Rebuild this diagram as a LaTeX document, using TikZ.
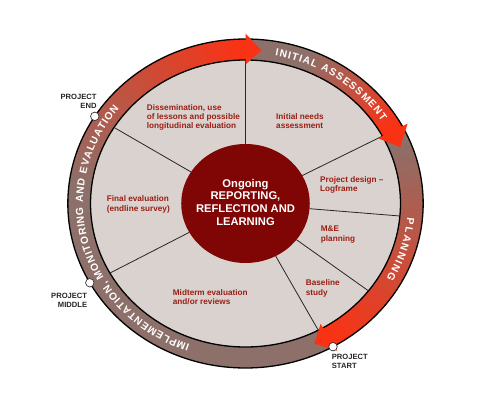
\documentclass[tikz,border=0pt]{standalone}
\usepackage{fontspec}
\setmainfont{Liberation Sans}
\usepackage{tikz}
\usetikzlibrary{decorations.text, calc}

\definecolor{ringbrown}{RGB}{140,112,105}
\definecolor{ringred}{RGB}{250,50,20}
\definecolor{diskgray}{RGB}{218,210,206}
\definecolor{coremaroon}{RGB}{128,5,5}
\definecolor{labelred}{RGB}{155,30,20}

\newcommand{\ringfont}{\fontsize{10.3}{10.3}\selectfont\bfseries}
\def\Rout{164.5}
\def\Rin{143.5}
\def\Rc{59.5}

\begin{document}
\begin{tikzpicture}[
    x=1pt, y=1pt,
    sector/.style={anchor=north west, inner sep=0pt, align=left, text=labelred, font=\fontsize{8.2}{9.3}\selectfont\bfseries},
    core/.style={inner sep=0pt, align=center, text=white, font=\fontsize{11.2}{12.7}\selectfont\bfseries},
    milestone/.style={inner sep=0pt, text=black!85, font=\fontsize{7.6}{9}\selectfont\bfseries},
    marker/.style={circle, draw=black!80, fill=white, line width=0.7pt, minimum size=8.5pt, inner sep=0pt},
    divider/.style={line width=0.8pt, black!85},
    ringtext/.style={decorate, decoration={text along path, text align={fit to path}, text color=white}}
]
    \path[use as bounding box, fill=white] (-245.5,-197.5) rectangle (246.5,203.5);

    \begin{scope}[xscale=1.08]
        \fill[diskgray] (0,0) circle[radius=\Rin];
        \fill[ringbrown, even odd rule] (0,0) circle[radius=\Rout] (0,0) circle[radius=\Rin];
        \foreach \from/\to/\steps in {172/90/41, 68/28/20, 22/-60/41} {
            \foreach \i in {1,...,\steps} {
                \pgfmathsetmacro\a{\from-(\i-1)*(\from-\to)/\steps}
                \pgfmathsetmacro\b{\from-\i*(\from-\to)/\steps-0.4}
                \pgfmathsetmacro\p{100*\i/\steps}
                \fill[ringred!\p!ringbrown] (\a:\Rout) arc[start angle=\a, end angle=\b, radius=\Rout]
                    -- (\b:\Rin) arc[start angle=\b, end angle=\a, radius=\Rin] -- cycle;
            }
        }
        \draw[line width=1.3pt] (0,0) circle[radius=\Rout];
        \draw[line width=1.3pt] (0,0) circle[radius=\Rin];
        \foreach \ang in {90, 28, -5, -37.5, -62, 209, 148}
            \draw[divider] (\ang:\Rc) -- (\ang:\Rin);
        \foreach \base/\tip in {90/84.5, 28/21.5, -60/-65.5}
            \fill[ringred] (\base:139) -- (\base:170) -- (\tip:154) -- cycle;
        \fill[coremaroon] (0,0) circle[radius=\Rc];
    \end{scope}

    \path[ringtext, decoration={text={|\ringfont|INITIAL ASSESSMENT}}]
        (79.5:162.5 and 150.5) arc[start angle=79.5, end angle=33, x radius=162.5, y radius=150.5];
    \path[ringtext, decoration={text={|\ringfont|PLANNING}}]
        (-5.5:162.5 and 150.5) arc[start angle=-5.5, end angle=-30, x radius=162.5, y radius=150.5];
    \path[ringtext, decoration={text={|\ringfont|IMPLEMENTATION, MONITORING AND EVALUATION}}]
        (250:162.5 and 150.5) arc[start angle=250, end angle=141, x radius=162.5, y radius=150.5];

    \node (hub) [core] at (0,1.2) {Ongoing\\REPORTING,\\REFLECTION AND\\LEARNING};

    \node (dissem) [sector] at (-98.8,99.4) {Dissemination, use\\of lessons and possible\\longitudinal evaluation};
    \node (needs) [sector] at (30.5,90.0) {Initial needs\\assessment};
    \node (design) [sector] at (74.5,27.4) {Project design --\\Logframe};
    \node (mande) [sector] at (75.2,-22.6) {M\&E\\planning};
    \node (baseline) [sector] at (60.2,-76.3) {Baseline\\study};
    \node (midterm) [sector] at (-72.8,-85.6) {Midterm evaluation\\and/or reviews};
    \node (final) [sector] at (-138.8,7.7) {Final evaluation\\(endline survey)};

    \node (startmark) [marker] at (-60.5:177.7 and 164.5) {};
    \node (midmark) [marker] at (208.8:177.7 and 164.5) {};
    \node (endmark) [marker] at (148:177.7 and 164.5) {};

    \node (startlbl) [milestone, anchor=north west, align=left] at (86.2,-150.6) {PROJECT\\START};
    \node (midlbl) [milestone, anchor=north east, align=right] at (-158.2,-89.6) {PROJECT\\MIDDLE};
    \node (endlbl) [milestone, anchor=north east, align=right] at (-148.8,109.4) {PROJECT\\END};
\end{tikzpicture}
\end{document}
